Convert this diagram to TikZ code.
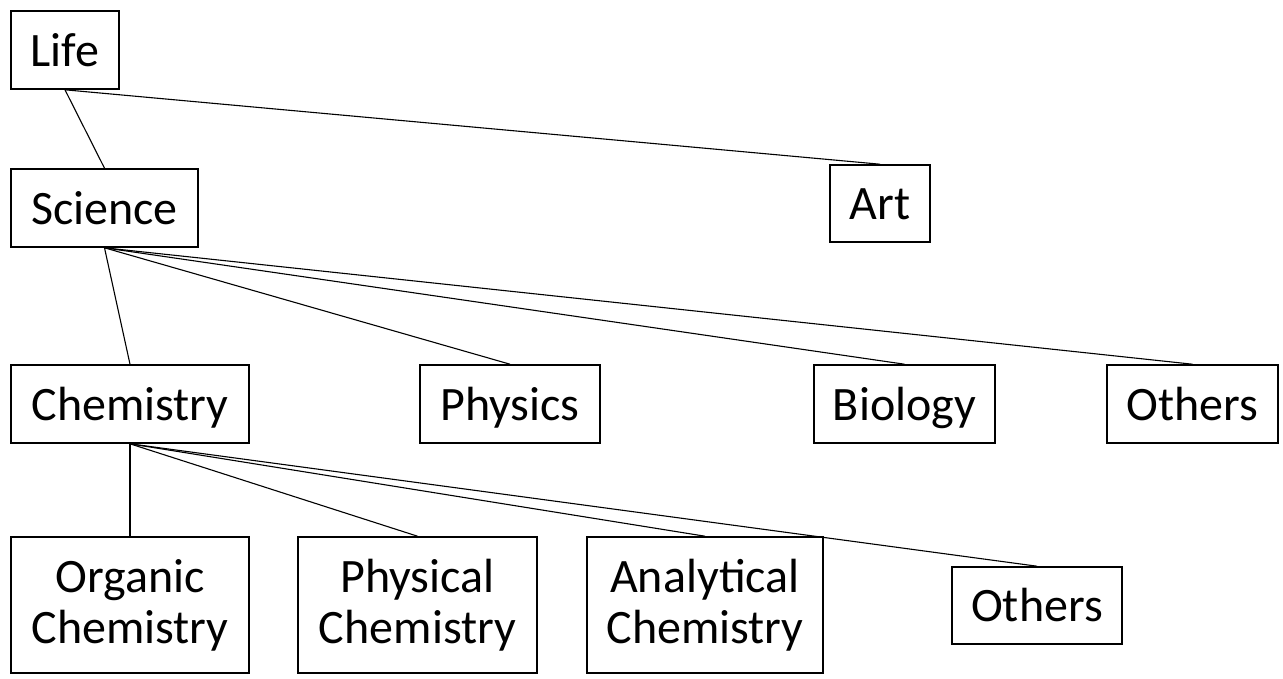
\documentclass[tikz,border=0pt]{standalone}
\usepackage{fontspec}
\setmainfont{Carlito}
\begin{document}
\begin{tikzpicture}[x=1pt,y=-1pt,
  box/.style={draw, line width=1.6pt, inner sep=0pt, align=center,
    font=\fontsize{48}{51}\selectfont},
  one/.style={box, text height=45.7pt, text depth=12.9pt},
  two/.style={box, minimum height=136pt, yshift=-2pt},
  link/.style={line width=1.1pt}]
\path[use as bounding box, fill=white] (0,0) rectangle (1283,678);
% row 1
\node[one, minimum width=108pt, minimum height=78pt] (life) at (65,50) {Life};
% row 2
\node[one, minimum width=187pt, minimum height=78pt] (science) at (104.5,208) {Science};
\node[one, minimum width=100pt, minimum height=77pt] (art) at (880,203.5) {Art};
% row 3
\node[one, minimum width=238pt, minimum height=78pt] (chem) at (130,404) {Chemistry};
\node[one, minimum width=180pt, minimum height=78pt] (phys) at (510,404) {Physics};
\node[one, minimum width=181pt, minimum height=78pt] (bio) at (904.5,404) {Biology};
\node[one, minimum width=171pt, minimum height=78pt] (oth) at (1192.5,404) {Others};
% row 4
\node[two, minimum width=238pt] (org) at (130,603) {Organic\\Chemistry};
\node[two, minimum width=239pt] (pchem) at (417.5,603) {Physical\\Chemistry};
\node[two, minimum width=236pt] (anal) at (705,603) {Analytical\\Chemistry};
\node[one, minimum width=170pt, minimum height=77pt] (oth2) at (1037,605.5) {Others};
% connectors
\draw[link] (life.south) -- (science.north);
\draw[link] (life.south) -- (art.north);
\draw[link] (science.south) -- (chem.north);
\draw[link] (science.south) -- (phys.north);
\draw[link] (science.south) -- (bio.north);
\draw[link] (science.south) -- (oth.north);
\draw[link] (chem.south) -- (org.north);
\draw[link] (chem.south) -- (pchem.north);
\draw[link] (chem.south) -- (anal.north);
\draw[link] (chem.south) -- (oth2.north);
\end{tikzpicture}
\end{document}
